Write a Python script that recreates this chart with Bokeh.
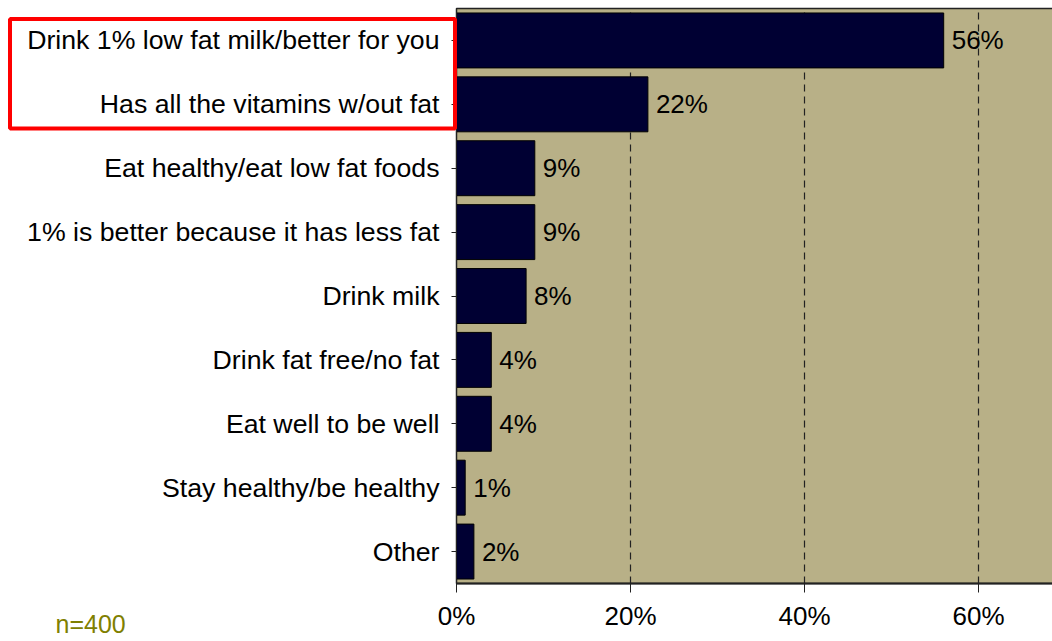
from bokeh.plotting import figure
from bokeh.models import FixedTicker, Label, BoxAnnotation, ColumnDataSource, Range1d
from bokeh.core.properties import value
from bokeh.embed import file_html
from bokeh.resources import INLINE

categories = [
    "Drink 1% low fat milk/better for you",
    "Has all the vitamins w/out fat",
    "Eat healthy/eat low fat foods",
    "1% is better because it has less fat",
    "Drink milk",
    "Drink fat free/no fat",
    "Eat well to be well",
    "Stay healthy/be healthy",
    "Other",
]
values = [56, 22, 9, 9, 8, 4, 4, 1, 2]
x_ticks = [0, 20, 40, 60]
x_tick_labels = ["0%", "20%", "40%", "60%"]
grid_values = [20, 40, 60]
sample_note = "n=400"

FONT = "Liberation Sans"
W, H = 1052, 641
n = len(categories)
rows = [n - i for i in range(n)]  # top category gets the highest row

# frame spans the whole canvas; data area: x from px 456 (0%), rows between px 8 and 583
px_per_x = 174 / 20.0
x0_px = 456
x_start = -x0_px / px_per_x
x_end = x_start + W / px_per_x
px_per_row = 575 / n
y_end = n + 0.5 + 8 / px_per_row
y_start = 0.5 - (H - 583) / px_per_row

src = ColumnDataSource(dict(row=rows, val=values, lab=[f"{v}%" for v in values]))

p = figure(
    width=W, height=H,
    x_range=Range1d(x_start, x_end), y_range=Range1d(y_start, y_end),
    output_backend="svg", toolbar_location=None,
    min_border_left=0, min_border_right=0, min_border_top=0, min_border_bottom=0,
)
p.background_fill_color = "white"
p.border_fill_color = "white"
p.outline_line_color = None

# plot-area background with its border
p.add_layout(BoxAnnotation(left=0, right=80, bottom=0.5, top=n + 0.5,
                           fill_color="#b8b087", fill_alpha=1.0,
                           line_color="#222222", line_alpha=1.0, line_width=1.5,
                           level="image"))

# dashed vertical gridlines limited to the plot area
p.segment(x0=grid_values, x1=grid_values,
          y0=[0.5] * len(grid_values), y1=[n + 0.5] * len(grid_values),
          line_color="#222222", line_dash="7 5", line_width=1.2, level="underlay")

p.hbar(y="row", right="val", left=0, height=0.86, source=src,
       fill_color="#000033", line_color="black", line_width=1)
p.text(x="val", y="row", text="lab", source=src, x_offset=8,
       text_baseline="middle", text_align="left",
       text_font=value(FONT), text_font_size="26px", text_color="black")

p.xgrid.grid_line_color = None
p.ygrid.grid_line_color = None

p.xaxis.fixed_location = 0.5
p.xaxis.bounds = (0, x_end)
p.xaxis.ticker = FixedTicker(ticks=x_ticks)
p.xaxis.major_label_overrides = {t: l for t, l in zip(x_ticks, x_tick_labels)}
p.xaxis.minor_tick_line_color = None
p.xaxis.major_tick_out = 9
p.xaxis.major_tick_in = 0
p.xaxis.axis_line_color = "#222222"
p.xaxis.axis_line_width = 2
p.xaxis.major_tick_line_color = "#222222"
p.xaxis.major_label_standoff = 8
p.xaxis.major_label_text_font = FONT
p.xaxis.major_label_text_font_size = "26px"
p.xaxis.major_label_text_color = "black"

p.yaxis.fixed_location = 0
p.yaxis.bounds = (0.5, n + 0.5)
p.yaxis.ticker = FixedTicker(ticks=rows)
p.yaxis.major_label_overrides = {r: c for r, c in zip(rows, categories)}
p.yaxis.minor_tick_line_color = None
p.yaxis.major_tick_out = 5
p.yaxis.major_tick_in = 0
p.yaxis.axis_line_color = "#222222"
p.yaxis.major_tick_line_color = "#222222"
p.yaxis.major_label_standoff = 12
p.yaxis.major_label_text_font = FONT
p.yaxis.major_label_text_font_size = "26.7px"
p.yaxis.major_label_text_color = "black"

p.add_layout(Label(x=55, y=4, x_units="screen", y_units="screen", text=sample_note,
                   text_font=FONT, text_font_size="25px", text_color="#808000"))

p.add_layout(BoxAnnotation(left=9.5, right=454.5, top=H - 18.5, bottom=H - 128,
                           left_units="screen", right_units="screen",
                           top_units="screen", bottom_units="screen",
                           fill_color=None, fill_alpha=0, line_color="#ff0000",
                           line_alpha=1.0, line_width=4, level="overlay"))

open("out.html", "w").write(file_html(p, INLINE))
